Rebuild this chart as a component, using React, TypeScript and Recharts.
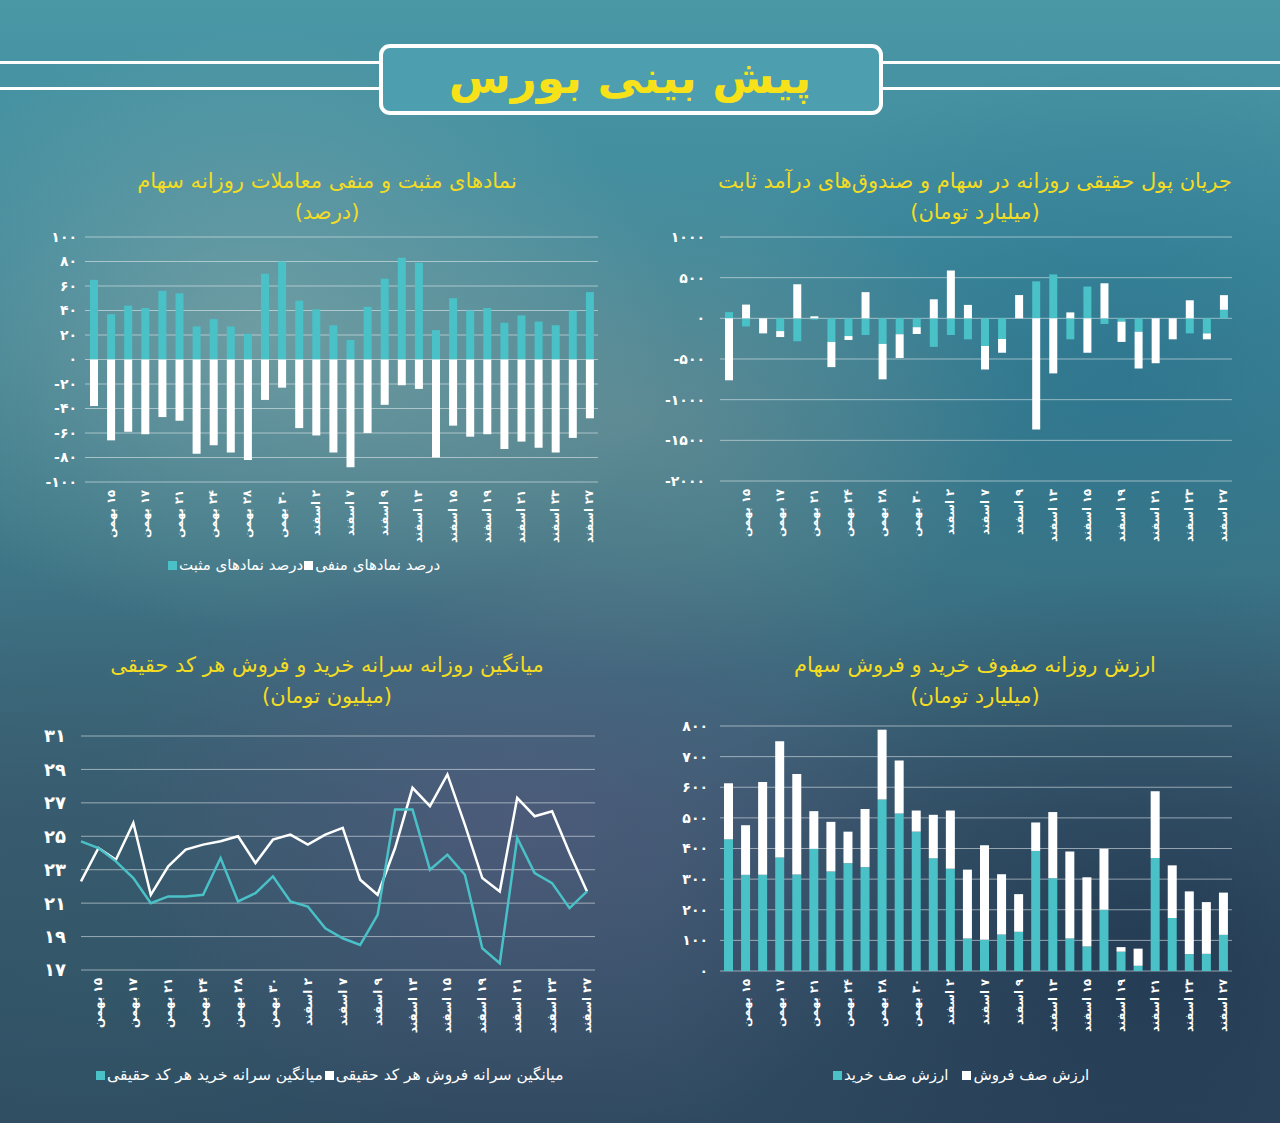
import React from 'react';
import { BarChart, Bar, LineChart, Line, XAxis, YAxis, CartesianGrid } from 'recharts';

const dates = ['۱۴ بهمن','۱۵ بهمن','۱۶ بهمن','۱۷ بهمن','۱۸ بهمن','۲۱ بهمن','۲۲ بهمن','۲۴ بهمن','۲۵ بهمن','۲۸ بهمن','۲۹ بهمن','۳۰ بهمن','۱ اسفند','۲ اسفند','۶ اسفند','۷ اسفند','۸ اسفند','۹ اسفند','۱۲ اسفند','۱۳ اسفند','۱۴ اسفند','۱۵ اسفند','۱۶ اسفند','۱۹ اسفند','۲۰ اسفند','۲۱ اسفند','۲۲ اسفند','۲۳ اسفند','۲۶ اسفند','۲۷ اسفند'];

// Chart 1: positive / negative symbols (%)
const positivePct = [65,37,44,42,56,54,27,33,27,21,70,80,48,41,28,16,43,66,83,79,24,50,40,42,30,36,31,28,40,55];
const negativePct = [-38,-66,-59,-61,-47,-50,-77,-70,-76,-82,-33,-23,-56,-62,-76,-88,-60,-37,-21,-24,-80,-54,-63,-61,-73,-67,-72,-76,-64,-48];
const pctTicks = [-100,-80,-60,-40,-20,0,20,40,60,80,100];

// Chart 2: real money flow (billion toman)
const stockFlow = [77,-100,0,-157,-282,-15,-290,-218,-205,-314,-197,-109,-351,-205,-258,-339,-254,0,455,540,-258,391,-69,-40,-165,0,0,-185,-185,105];
const fixedIncomeFlow = [-762,169,-185,-73,419,25,-310,-48,322,-436,-291,-84,234,588,165,-290,-169,286,-1366,-677,73,-423,431,-250,-452,-552,-258,222,-73,180];
const flowTicks = [-2000,-1500,-1000,-500,0,500,1000];

// Chart 3: per-capita buy / sell (million toman)
const perCapitaBuy = [24.7,24.3,23.5,22.5,21.0,21.4,21.4,21.5,23.7,21.1,21.6,22.6,21.1,20.8,19.5,18.9,18.5,20.3,26.6,26.6,23.0,23.9,22.7,18.3,17.4,24.9,22.8,22.2,20.7,21.7];
const perCapitaSell = [22.3,24.3,23.6,25.8,21.5,23.2,24.2,24.5,24.7,25.0,23.4,24.8,25.1,24.5,25.1,25.5,22.4,21.5,24.3,27.9,26.8,28.7,25.7,22.5,21.7,27.3,26.2,26.5,24.0,21.7];
const perCapitaTicks = [17,19,21,23,25,27,29,31];

// Chart 4: buy / sell queue value (billion toman)
const buyQueue = [430,314,314,371,315,399,325,352,339,560,514,455,368,334,106,102,119,128,392,303,106,80,200,63,17,369,173,55,56,118];
const sellQueue = [183,162,303,379,328,123,162,103,190,228,173,69,142,190,225,309,197,123,93,216,284,226,199,15,56,218,172,205,169,138];
const queueTicks = [0,100,200,300,400,500,600,700,800];

const CYAN = '#49c1c7';
const WHITE = '#ffffff';
const YELLOW = '#f3dc22';
const FONT = '"DejaVu Sans", "Noto Sans", sans-serif';
const GRID = 'rgba(235,240,242,0.55)';

const fa = (v: number | string) => String(v).replace(/\d/g, (d) => '۰۱۲۳۴۵۶۷۸۹'[Number(d)]);

const pctData = dates.map((d, i) => ({ date: d, pos: positivePct[i], neg: negativePct[i] }));
const flowData = dates.map((d, i) => ({ date: d, stock: stockFlow[i], fixed: fixedIncomeFlow[i] }));
const capitaData = dates.map((d, i) => ({ date: d, buy: perCapitaBuy[i], sell: perCapitaSell[i] }));
const queueData = dates.map((d, i) => ({ date: d, buy: buyQueue[i], sell: sellQueue[i] }));

const DateTick = (props: any) => {
  const { x, y, payload, index, fontSize } = props;
  if (index % 2 === 0) return <g />;
  return (
    <text
      x={x}
      y={y}
      transform={`rotate(-90 ${x} ${y})`}
      textAnchor="start"
      dominantBaseline="central"
      fill={WHITE}
      fontSize={fontSize || 12}
      fontWeight={700}
      fontFamily={FONT}
      style={{ direction: 'rtl', unicodeBidi: 'embed' } as any}
    >
      {payload.value}
    </text>
  );
};

const Title = ({ lines, cx, top }: { lines: string[]; cx: number; top: number }) => (
  <div
    dir="rtl"
    style={{
      position: 'absolute', left: cx - 320, top, width: 640, textAlign: 'center',
      color: YELLOW, fontFamily: FONT, fontSize: 21, lineHeight: '31px',
    }}
  >
    {lines.map((l, i) => <div key={i}>{l}</div>)}
  </div>
);

const LegendRow = ({ items, left, top, fontSize, gap }: { items: { name: string; color: string }[]; left: number; top: number; fontSize: number; gap: number }) => (
  <div style={{ position: 'absolute', left, top, display: 'flex', alignItems: 'center', fontFamily: FONT, fontSize, color: WHITE, direction: 'ltr', whiteSpace: 'nowrap' }}>
    {items.map((it, i) => (
      <div key={i} style={{ display: 'flex', alignItems: 'center', marginRight: gap }}>
        <span style={{ display: 'inline-block', width: 9, height: 9, background: it.color, marginRight: 2 }} />
        <span dir="rtl">{it.name}</span>
      </div>
    ))}
  </div>
);

const yTick = (size: number, dx: number) => ({ fill: WHITE, fontSize: size, fontWeight: 700, fontFamily: FONT, dx });

export default function App() {
  const bg = [
    'radial-gradient(ellipse 420px 300px at 260px 330px, rgba(150,175,172,0.55), rgba(150,175,172,0) 100%)',
    'radial-gradient(ellipse 380px 260px at 640px 420px, rgba(130,150,150,0.45), rgba(130,150,150,0) 100%)',
    'radial-gradient(ellipse 420px 330px at 520px 820px, rgba(95,90,130,0.45), rgba(95,90,130,0) 100%)',
    'radial-gradient(ellipse 500px 380px at 1150px 950px, rgba(25,45,70,0.6), rgba(25,45,70,0) 100%)',
    'radial-gradient(ellipse 400px 360px at 90px 950px, rgba(50,90,105,0.55), rgba(50,90,105,0) 100%)',
    'radial-gradient(ellipse 420px 320px at 1120px 380px, rgba(35,110,140,0.55), rgba(35,110,140,0) 100%)',
    'linear-gradient(180deg, #4a97a6 0%, #3f8a9c 22%, #3e7888 48%, #3b5c72 72%, #2f4a60 100%)',
  ].join(',');

  return (
    <div style={{ position: 'absolute', left: 0, top: 0, width: 1280, height: 1123, background: bg, overflow: 'hidden', fontFamily: FONT }}>
      {/* header lines */}
      <div style={{ position: 'absolute', left: 0, top: 61, width: 382, height: 3, background: WHITE }} />
      <div style={{ position: 'absolute', left: 0, top: 87, width: 382, height: 3, background: WHITE }} />
      <div style={{ position: 'absolute', left: 878, top: 61, width: 402, height: 3, background: WHITE }} />
      <div style={{ position: 'absolute', left: 878, top: 87, width: 402, height: 3, background: WHITE }} />
      <div style={{ position: 'absolute', left: 379, top: 44, width: 496, height: 63, border: '4px solid #ffffff', borderRadius: 11, background: '#4d9eae' }} />
      <div dir="rtl" style={{ position: 'absolute', left: 380, top: 42, width: 500, height: 71, display: 'flex', alignItems: 'center', justifyContent: 'center', color: '#f7e21a', fontSize: 45, fontWeight: 700, fontFamily: FONT }}>
        پیش بینی بورس
      </div>

      {/* titles */}
      <Title lines={['نمادهای مثبت و منفی معاملات روزانه سهام', '(درصد)']} cx={327} top={166} />
      <Title lines={['جریان پول حقیقی روزانه در سهام و صندوق‌های درآمد ثابت', '(میلیارد تومان)']} cx={975} top={166} />
      <Title lines={['میانگین روزانه سرانه خرید و فروش هر کد حقیقی', '(میلیون تومان)']} cx={327} top={650} />
      <Title lines={['ارزش روزانه صفوف خرید و فروش سهام', '(میلیارد تومان)']} cx={975} top={650} />

      {/* chart 1 */}
      <div style={{ position: 'absolute', left: 0, top: 220 }}>
        <BarChart width={620} height={340} data={pctData} stackOffset="sign" margin={{ top: 17, right: 22, left: 0, bottom: 20 }}>
          <CartesianGrid vertical={false} stroke={GRID} />
          <XAxis dataKey="date" interval={0} height={58} axisLine={false} tickLine={false} tick={(p: any) => <DateTick {...p} fontSize={11.5} />} />
          <YAxis domain={[-100, 100]} ticks={pctTicks} width={85} axisLine={false} tickLine={false} tick={yTick(14, 0)} tickFormatter={fa} interval={0} />
          <Bar dataKey="pos" stackId="a" fill={CYAN} barSize={8} isAnimationActive={false} />
          <Bar dataKey="neg" stackId="a" fill={WHITE} barSize={8} isAnimationActive={false} />
        </BarChart>
      </div>
      <LegendRow items={[{ name: 'درصد نمادهای مثبت', color: CYAN }, { name: 'درصد نمادهای منفی', color: WHITE }]} left={168} top={556} fontSize={15} gap={1} />

      {/* chart 2 */}
      <div style={{ position: 'absolute', left: 640, top: 220 }}>
        <BarChart width={620} height={339} data={flowData} stackOffset="sign" margin={{ top: 17, right: 28, left: 0, bottom: 20 }}>
          <CartesianGrid vertical={false} stroke={GRID} />
          <XAxis dataKey="date" interval={0} height={58} axisLine={false} tickLine={false} tick={(p: any) => <DateTick {...p} fontSize={11.5} />} />
          <YAxis domain={[-2000, 1000]} ticks={flowTicks} width={80} axisLine={false} tickLine={false} tick={yTick(14, -7)} tickFormatter={fa} interval={0} />
          <Bar dataKey="stock" stackId="a" fill={CYAN} barSize={8} isAnimationActive={false} />
          <Bar dataKey="fixed" stackId="a" fill={WHITE} barSize={8} isAnimationActive={false} />
        </BarChart>
      </div>

      {/* chart 3 */}
      <div style={{ position: 'absolute', left: 0, top: 720 }}>
        <LineChart width={620} height={330} data={capitaData} margin={{ top: 16, right: 25, left: 0, bottom: 20 }}>
          <CartesianGrid vertical={false} stroke={GRID} />
          <XAxis dataKey="date" interval={0} height={60} axisLine={false} tickLine={false} padding={{ left: 0, right: 8 }} tick={(p: any) => <DateTick {...p} fontSize={12} />} />
          <YAxis domain={[17, 31]} ticks={perCapitaTicks} width={81} axisLine={false} tickLine={false} tick={yTick(18, -7)} tickFormatter={fa} interval={0} />
          <Line dataKey="sell" stroke={WHITE} strokeWidth={2.5} dot={false} isAnimationActive={false} type="linear" />
          <Line dataKey="buy" stroke={CYAN} strokeWidth={2.5} dot={false} isAnimationActive={false} type="linear" />
        </LineChart>
      </div>
      <LegendRow items={[{ name: 'میانگین سرانه خرید هر کد حقیقی', color: CYAN }, { name: 'میانگین سرانه فروش هر کد حقیقی', color: WHITE }]} left={96} top={1066} fontSize={15.5} gap={2} />

      {/* chart 4 */}
      <div style={{ position: 'absolute', left: 640, top: 710 }}>
        <BarChart width={620} height={341} data={queueData} margin={{ top: 16, right: 28, left: 0, bottom: 20 }}>
          <CartesianGrid vertical={false} stroke={GRID} />
          <XAxis dataKey="date" interval={0} height={60} axisLine={false} tickLine={false} tick={(p: any) => <DateTick {...p} fontSize={11.5} />} />
          <YAxis domain={[0, 800]} ticks={queueTicks} width={80} axisLine={false} tickLine={false} tick={yTick(14, -4)} tickFormatter={fa} interval={0} />
          <Bar dataKey="buy" stackId="a" fill={CYAN} barSize={9} isAnimationActive={false} />
          <Bar dataKey="sell" stackId="a" fill={WHITE} barSize={9} isAnimationActive={false} />
        </BarChart>
      </div>
      <LegendRow items={[{ name: 'ارزش صف خرید', color: CYAN }, { name: 'ارزش صف فروش', color: WHITE }]} left={833} top={1066} fontSize={15} gap={14} />
    </div>
  );
}
